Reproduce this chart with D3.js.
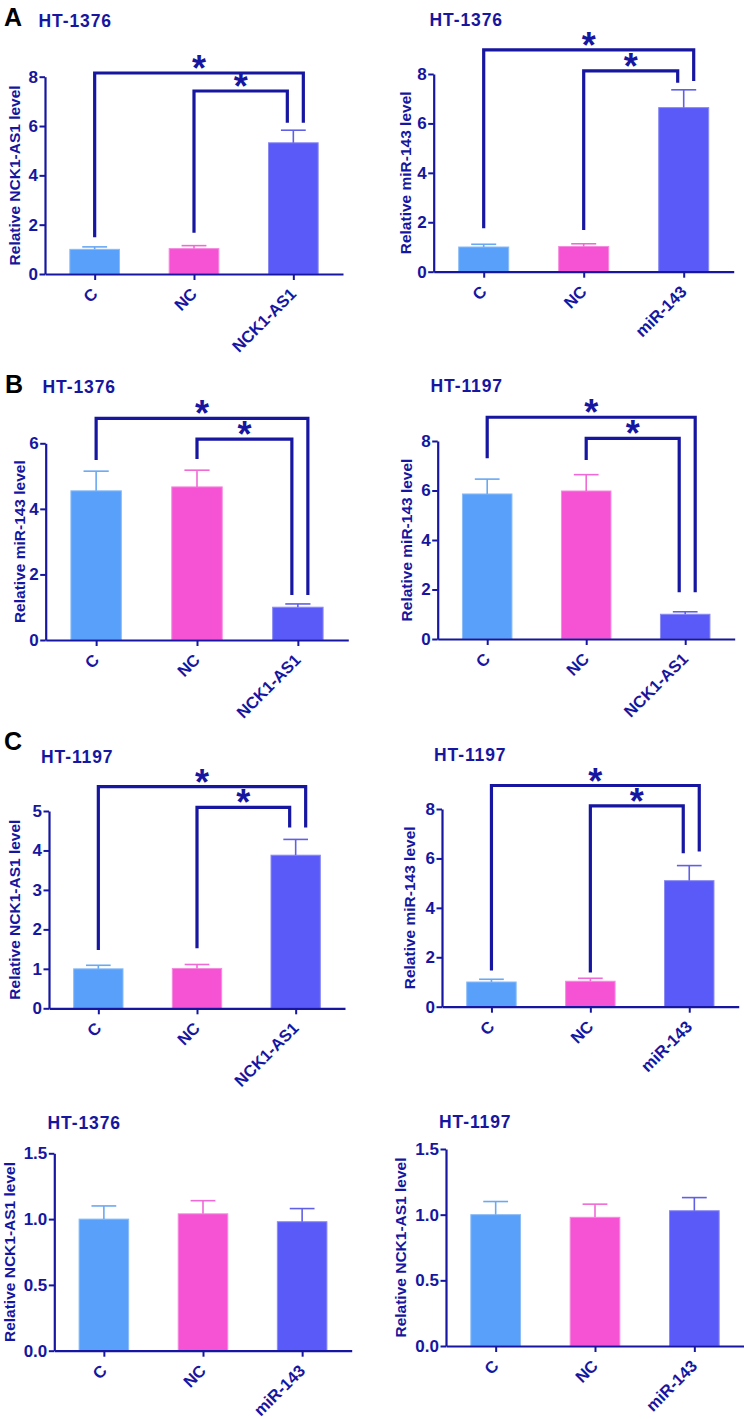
<!DOCTYPE html>
<html><head><meta charset="utf-8">
<script src="https://cdn.jsdelivr.net/npm/d3@7"></script>
<style>body{margin:0;background:#fff} svg{display:block}</style>
</head><body><svg id="c" width="744" height="1419"></svg>
<script>
// ---------- data ----------
const panelLetters = ["A", "", "B", "", "C", "", "", ""];
const panelTitles = ["HT-1376", "HT-1376", "HT-1376", "HT-1197", "HT-1197", "HT-1197", "HT-1376", "HT-1197"];
const yLabels = [
  "Relative NCK1-AS1 level", "Relative miR-143 level",
  "Relative miR-143 level", "Relative miR-143 level",
  "Relative NCK1-AS1 level", "Relative miR-143 level",
  "Relative NCK1-AS1 level", "Relative NCK1-AS1 level"
];
const categories = [
  ["C", "NC", "NCK1-AS1"], ["C", "NC", "miR-143"],
  ["C", "NC", "NCK1-AS1"], ["C", "NC", "NCK1-AS1"],
  ["C", "NC", "NCK1-AS1"], ["C", "NC", "miR-143"],
  ["C", "NC", "miR-143"], ["C", "NC", "miR-143"]
];
const means = [
  [1.00, 1.03, 5.32], [1.00, 1.02, 6.64],
  [4.55, 4.67, 1.00], [5.86, 5.98, 1.00],
  [1.00, 1.01, 3.88], [1.00, 1.03, 5.10],
  [1.00, 1.04, 0.98], [1.00, 0.98, 1.03]
];
const errors = [
  [0.10, 0.12, 0.51], [0.11, 0.11, 0.72],
  [0.60, 0.51, 0.10], [0.60, 0.66, 0.10],
  [0.09, 0.10, 0.40], [0.11, 0.12, 0.61],
  [0.10, 0.10, 0.10], [0.10, 0.10, 0.10]
];
const yMax = [8, 8, 6, 8, 5, 8, 1.5, 1.5];
const yTicks = [
  [0, 2, 4, 6, 8], [0, 2, 4, 6, 8],
  [0, 2, 4, 6], [0, 2, 4, 6, 8],
  [0, 1, 2, 3, 4, 5], [0, 2, 4, 6, 8],
  [0, 0.5, 1.0, 1.5], [0, 0.5, 1.0, 1.5]
];
const yTickFormat = ["d", "d", "d", "d", "d", "d", ".1f", ".1f"];
// significance brackets in data units: [fromGroup, toGroup, barLevel, leftLegEnd, rightLegEnd]
const brackets = [
  [[0, 2, 8.15, 1.49, 6.13], [1, 2, 7.42, 1.67, 6.13]],
  [[0, 2, 8.98, 1.76, 7.72], [1, 2, 8.13, 1.69, 7.65]],
  [[0, 2, 6.76, 5.49, 1.37], [1, 2, 6.13, 5.52, 1.37]],
  [[0, 2, 8.96, 7.30, 1.89], [1, 2, 8.11, 7.23, 1.89]],
  [[0, 2, 5.62, 1.48, 4.58], [1, 2, 5.09, 1.52, 4.58]],
  [[0, 2, 8.95, 1.46, 6.28], [1, 2, 8.13, 1.38, 6.21]],
  [], []
];
const sigLabel = "*";

// ---------- layout / style ----------
const layout = [
  {x0: 45,    x1: 343,   yTop: 76.7,   y0: 274,    tx: 38.5,  ty: 26.5,   lx: 19.5,  Lx: 4, Ly: 26},
  {x0: 433.7, x1: 733.7, yTop: 74,     y0: 271.7,  tx: 429.5, ty: 26,     lx: 411.3},
  {x0: 45.7,  x1: 348.3, yTop: 443.3,  y0: 640,    tx: 42.5,  ty: 393.3,  lx: 25,    Lx: 5, Ly: 393},
  {x0: 437.7, x1: 734.7, yTop: 441,    y0: 639,    tx: 430.5, ty: 392.3,  lx: 412},
  {x0: 49,    x1: 345,   yTop: 811,    y0: 1008.3, tx: 41,    ty: 762.5,  lx: 20,    Lx: 4, Ly: 750},
  {x0: 442,   x1: 738.7, yTop: 809,    y0: 1006.7, tx: 434,   ty: 761,    lx: 415.3},
  {x0: 54.3,  x1: 351.7, yTop: 1153.3, y0: 1350.7, tx: 47.5,  ty: 1129.3, lx: 15},
  {x0: 446,   x1: 744,   yTop: 1149,   y0: 1346,   tx: 439,   ty: 1128.3, lx: 406}
];
const ink = "#1616a0";
const barFill = ["#58a0fa", "#f552d4", "#5a5af8"];
const barEdge = ["#8cbcf6", "#f58ade", "#8a8af2"];
const errColor = ["#6aa8f2", "#f06ad6", "#6060e6"];
const FONT = "'Liberation Sans', Arial, Helvetica, sans-serif";

const svg = d3.select("#c");

layout.forEach((L, p) => {
  const g = svg.append("g");
  const y = d3.scaleLinear().domain([0, yMax[p]]).range([L.y0, L.yTop]);
  const x = d3.scalePoint().domain(categories[p]).range([L.x0, L.x1]).padding(0.5);
  const bw = x.step() * 0.5;

  // bars
  g.selectAll("rect.bar").data(categories[p]).join("rect")
    .attr("x", d => x(d) - bw / 2)
    .attr("y", (d, i) => y(means[p][i]))
    .attr("width", bw)
    .attr("height", (d, i) => y(0) - y(means[p][i]))
    .attr("fill", (d, i) => barFill[i])
    .attr("stroke", (d, i) => barEdge[i])
    .attr("stroke-width", 1);

  // error bars (upper only)
  const eg = g.selectAll("g.err").data(categories[p]).join("g");
  eg.append("line")
    .attr("x1", d => x(d)).attr("x2", d => x(d))
    .attr("y1", (d, i) => y(means[p][i]))
    .attr("y2", (d, i) => y(means[p][i] + errors[p][i]))
    .attr("stroke", (d, i) => errColor[i]).attr("stroke-width", 1.6);
  eg.append("line")
    .attr("x1", d => x(d) - bw / 4).attr("x2", d => x(d) + bw / 4)
    .attr("y1", (d, i) => y(means[p][i] + errors[p][i]))
    .attr("y2", (d, i) => y(means[p][i] + errors[p][i]))
    .attr("stroke", (d, i) => errColor[i]).attr("stroke-width", 1.6);

  // y axis
  const ya = g.append("g").attr("transform", `translate(${L.x0},0)`)
    .call(d3.axisLeft(y).tickValues(yTicks[p]).tickFormat(d3.format(yTickFormat[p]))
      .tickSizeInner(5.5).tickSizeOuter(0).tickPadding(1.5));
  // x axis
  const xa = g.append("g").attr("transform", `translate(0,${L.y0})`)
    .call(d3.axisBottom(x).tickSizeInner(6).tickSizeOuter(0).tickFormat(""));
  [ya, xa].forEach(a => {
    a.select(".domain").attr("stroke", ink).attr("stroke-width", 2.2);
    a.selectAll(".tick line").attr("stroke", ink).attr("stroke-width", 2);
  });
  ya.selectAll(".tick text").attr("fill", ink).attr("font-family", FONT)
    .attr("font-weight", "bold").attr("font-size", 17);

  // rotated x labels
  g.selectAll("text.xl").data(categories[p]).join("text")
    .attr("transform", d => `translate(${x(d) + 4},${L.y0 + 21}) rotate(-45)`)
    .attr("text-anchor", "end")
    .attr("fill", ink).attr("font-family", FONT).attr("font-weight", "bold")
    .attr("font-size", 16.5)
    .text(d => d);

  // y label
  g.append("text")
    .attr("transform", `translate(${L.lx},${(L.yTop + L.y0) / 2}) rotate(-90)`)
    .attr("text-anchor", "middle")
    .attr("fill", ink).attr("font-family", FONT).attr("font-weight", "bold")
    .attr("font-size", 15.5)
    .text(yLabels[p]);

  // title
  g.append("text").attr("x", L.tx).attr("y", L.ty)
    .attr("fill", ink).attr("font-family", FONT).attr("font-weight", "bold")
    .attr("font-size", 17.5).attr("letter-spacing", 0.9)
    .text(panelTitles[p]);

  // panel letter
  if (panelLetters[p]) {
    g.append("text").attr("x", L.Lx).attr("y", L.Ly)
      .attr("fill", "#000").attr("font-family", FONT).attr("font-weight", "bold")
      .attr("font-size", 25).text(panelLetters[p]);
  }

  // significance brackets
  brackets[p].forEach((b, k) => {
    const [a, c, lvl, lEnd, rEnd] = b;
    const xa_ = x(categories[p][a]);
    const xc_ = x(categories[p][c]) + (k === 0 ? 10 : -6);
    const yl = y(lvl);
    g.append("path")
      .attr("d", `M${xa_},${y(lEnd)}V${yl}H${xc_}V${y(rEnd)}`)
      .attr("fill", "none").attr("stroke", ink).attr("stroke-width", 3.2)
      .attr("stroke-linejoin", "miter");
    g.append("text")
      .attr("x", (xa_ + xc_) / 2).attr("y", yl + 8)
      .attr("text-anchor", "middle")
      .attr("fill", ink).attr("font-family", FONT).attr("font-weight", "bold")
      .attr("font-size", 36).text(sigLabel);
  });
});
</script></body></html>
